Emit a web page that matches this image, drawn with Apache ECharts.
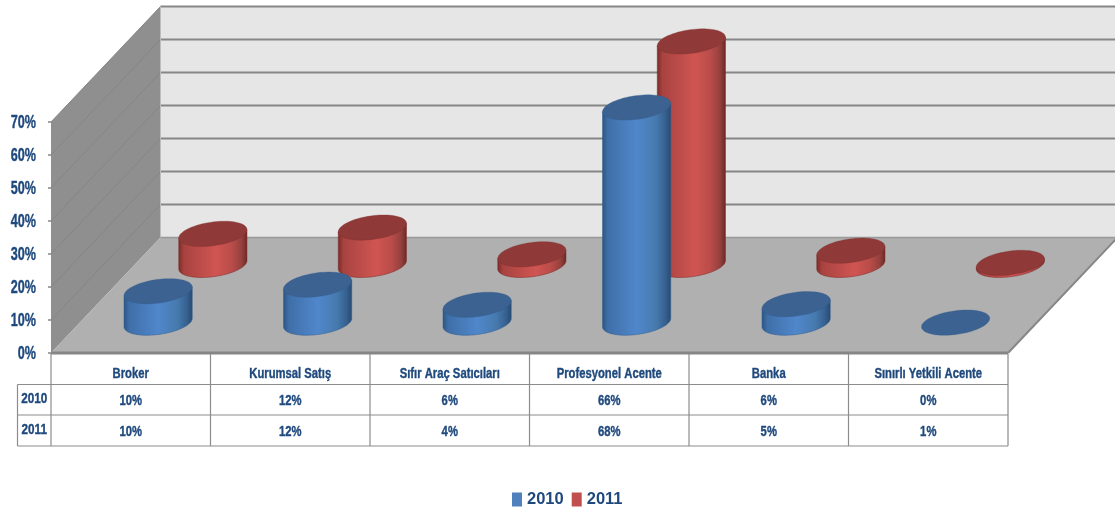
<!DOCTYPE html>
<html><head><meta charset="utf-8">
<style>html,body{margin:0;padding:0;background:#fff}#c{width:1115px;height:512px}</style>
<script src="https://cdn.jsdelivr.net/npm/echarts@6/dist/echarts.min.js"></script>
</head><body><div id="c"></div>
<script>
const categories = ['Broker','Kurumsal Satış','Sıfır Araç Satıcıları','Profesyonel Acente','Banka','Sınırlı Yetkili Acente'];
const years = ['2010','2011'];
const values2010 = [9.5,11.5,5.4,65.2,5.6,0];
const values2011 = [9.4,11.3,3.2,67.7,4.3,0.6];
const table2010 = ['10%','12%','6%','66%','6%','0%'];
const table2011 = ['10%','12%','4%','68%','5%','1%'];
const yTicks = [0,10,20,30,40,50,60,70];

const FONT = '"Liberation Sans",sans-serif';
const INK = '#1f497d';
const DX = 109.5, DY = -115.5;       // full depth of the box in pixels
const LIFT = 1.5;
const A = 34.4, B = 11.8, TH = 8 * Math.PI / 180; // cap ellipse
const ROWS = [{y:400.5,label:years[0],vals:table2010},{y:431.5,label:years[1],vals:table2011}];
const LINES = [354,384.5,415,446];

function narrow(text,x,y,size,scale,align){
  return {type:'text',x:x,y:y,scaleX:scale,scaleY:1,
    style:{text:text,x:0,y:0,align:align||'center',verticalAlign:'middle',fill:INK,stroke:INK,lineWidth:0.4,font:'bold '+size+'px '+FONT}};
}
function ell(cx,cy,t){
  const x=A*Math.cos(t), y=B*Math.sin(t);
  return [cx+x*Math.cos(TH)+y*Math.sin(TH), cy-x*Math.sin(TH)+y*Math.cos(TH)];
}
function cylinder(depth,stops,cap,edge){
  return function(params,api){
    const p=api.coord([api.value(0),api.value(1)]);
    const b=api.coord([api.value(0),0]);
    const cx=b[0]+depth*DX, by=b[1]+depth*DY-LIFT, ty=p[1]+depth*DY-LIFT;
    const capPts=[],lower=[],upper=[];
    for(let i=0;i<72;i++) capPts.push(ell(cx,ty,i/72*2*Math.PI));
    const t0=Math.atan2(B*Math.sin(TH),A*Math.cos(TH));
    for(let i=0;i<=48;i++) lower.push(ell(cx,by,t0+i/48*Math.PI));
    upper.push(ell(cx,ty,t0+Math.PI),ell(cx,ty,t0));
    const kids=[];
    if(by-ty>0.1){
      kids.push({type:'polygon',shape:{points:lower.concat(upper)},
        style:{fill:new echarts.graphic.LinearGradient(0,0,1,0,stops),stroke:edge,lineWidth:0.5}});
    }
    kids.push({type:'polygon',shape:{points:capPts},style:{fill:cap,stroke:edge,lineWidth:0.3}});
    return {type:'group',children:kids};
  };
}
const blueStops=[{offset:0,color:'#2c5482'},{offset:0.08,color:'#3f6fa8'},{offset:0.5,color:'#5087cb'},{offset:0.78,color:'#467aae'},{offset:0.92,color:'#36608f'},{offset:1,color:'#274a72'}];
const redStops=[{offset:0,color:'#7a2b29'},{offset:0.08,color:'#a84340'},{offset:0.55,color:'#d05552'},{offset:0.78,color:'#b94c49'},{offset:0.92,color:'#94403d'},{offset:1,color:'#6f2725'}];

function renderBox(params,api){
  const g=params.coordSys, L=g.x, R=g.x+g.width, Y0=g.y+g.height;
  const kids=[];
  const poly=(pts,fill)=>kids.push({type:'polygon',shape:{points:pts},style:{fill:fill}});
  const line=(a,b,c,w)=>kids.push({type:'line',shape:{x1:a[0],y1:a[1],x2:b[0],y2:b[1]},style:{stroke:c,lineWidth:w}});
  const top=api.coord([0,yTicks[yTicks.length-1]])[1];
  poly([[L+DX,top+DY],[R+DX,top+DY],[R+DX,Y0+DY],[L+DX,Y0+DY]],'#e6e6e6');
  poly([[L,top],[L+DX,top+DY],[L+DX,Y0+DY],[L,Y0]],'#8f8f8f');
  poly([[L,Y0],[L+DX,Y0+DY],[R+DX,Y0+DY],[R,Y0]],'#b0b0b0');
  yTicks.forEach(v=>{
    const y=api.coord([0,v])[1];
    if(v>0){
      line([L+DX,y+DY],[R+DX,y+DY],'#868686',2);
      line([L,y],[L+DX,y+DY],'#858585',1);
    }
  });
  line([L+DX,top+DY],[L+DX,Y0+DY],'#bdbdbd',1);
  line([L+DX,Y0+DY],[R+DX,Y0+DY],'#999999',1.5);
  line([R,Y0],[R+DX,Y0+DY],'#868686',2);
  line([L,Y0],[R,Y0],'#868686',3);
  return {type:'group',children:kids};
}
function renderTable(params,api){
  const g=params.coordSys, L=g.x, R=g.x+g.width, bw=g.width/categories.length;
  const kids=[], c='#8c8c8c', LEFT=17.5;
  const line=(x1,y1,x2,y2)=>kids.push({type:'line',shape:{x1,y1,x2,y2},style:{stroke:c,lineWidth:1.2}});
  for(let i=0;i<=categories.length;i++){const x=L+i*bw;line(x,LINES[0],x,LINES[3]);}
  line(LEFT,LINES[1],LEFT,LINES[3]);
  line(LEFT,LINES[1],R,LINES[1]);line(LEFT,LINES[2],R,LINES[2]);line(LEFT,LINES[3],R,LINES[3]);
  categories.forEach((name,i)=>kids.push(narrow(name,api.coord([i,0])[0],374,15,0.75)));
  ROWS.forEach(r=>{
    kids.push(narrow(r.label,(LEFT+L)/2,r.y-1.5,15,0.78));
    r.vals.forEach((v,i)=>kids.push(narrow(v,api.coord([i,0])[0],r.y,15,0.75)));
  });
  yTicks.forEach(v=>kids.push(narrow(v+'%',36,api.coord([0,v])[1]+1.5,18,0.7,'right')));
  return {type:'group',children:kids};
}
const chart=echarts.init(document.getElementById('c'),null,{renderer:'canvas'});
chart.setOption({
  animation:false,backgroundColor:'#fff',
  grid:{left:51,right:107,top:122,bottom:159,containLabel:false},
  legend:{left:512,top:491,padding:0,itemWidth:10,itemHeight:14,itemGap:8,icon:'rect',selectedMode:false,
    data:years,textStyle:{color:INK,fontFamily:FONT,fontWeight:'bold',fontSize:16.5}},
  xAxis:{type:'category',data:categories,axisLine:{show:false},axisTick:{show:false},axisLabel:{show:false}},
  yAxis:{type:'value',min:0,max:70,interval:10,splitLine:{show:false},axisLine:{show:false},
    axisTick:{show:true,length:3,lineStyle:{color:'#868686',width:1.5}},axisLabel:{show:false}},
  series:[
    {name:'box',type:'custom',z:1,silent:true,renderItem:renderBox,data:[[0,0]]},
    {name:'table',type:'custom',z:1,silent:true,renderItem:renderTable,data:[[0,0]]},
    {name:years[1],type:'custom',z:2,renderItem:cylinder(0.75,redStops,'#8f3a38','#7a2b29'),itemStyle:{color:'#c0504d'},
      data:values2011.map((v,i)=>[i,v]),encode:{x:0,y:1}},
    {name:years[0],type:'custom',z:3,renderItem:cylinder(0.25,blueStops,'#3c6291','#2f5a8c'),itemStyle:{color:'#4f81bd'},
      data:values2010.map((v,i)=>[i,v]),encode:{x:0,y:1}}
  ]
});
</script></body></html>
